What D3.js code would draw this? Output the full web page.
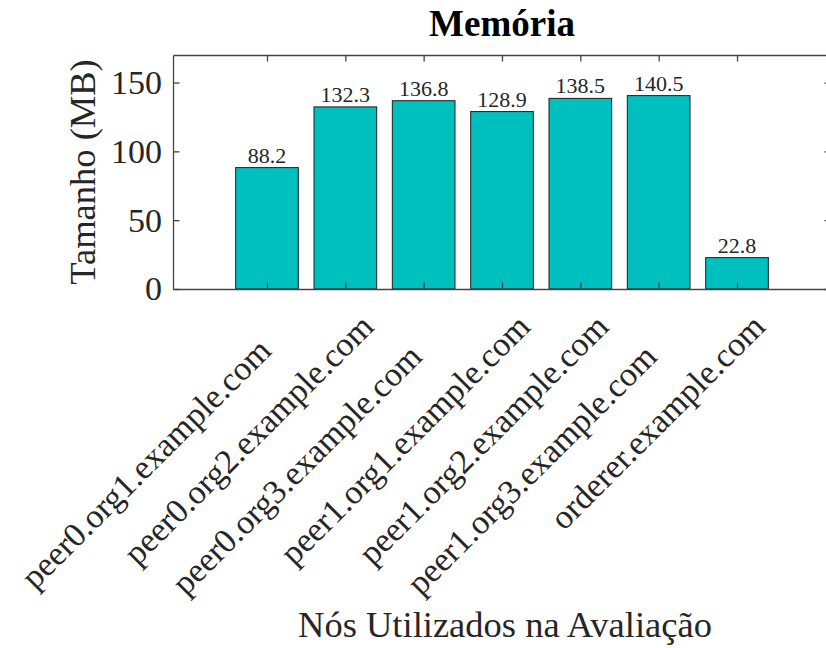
<!DOCTYPE html>
<html>
<head>
<meta charset="utf-8">
<script src="https://cdn.jsdelivr.net/npm/d3@7"></script>
<style>
  body { margin: 0; background: #fff; }
  svg { display: block; font-family: "Liberation Serif", "Times New Roman", serif; }
  .xlab { white-space: pre; }
</style>
</head>
<body>
<div id="chart"></div>
<script>
// node names (some labels carry trailing blanks, as in the original figure)
var categories = [
    "peer0.org1.example.com    ",
    "peer0.org2.example.com",
    "peer0.org3.example.com     ",
    "peer1.org1.example.com",
    "peer1.org2.example.com",
    "peer1.org3.example.com     ",
    "orderer.example.com"
];
var memory = [88.2, 132.3, 136.8, 128.9, 138.5, 140.5, 22.8];
var yTicks = [0, 50, 100, 150];

var width = 826, height = 648;
var axLeft = 173, axRight = 831, axTop = 55, axBottom = 289;
var tickLen = 6.5;
var textColor = "#262626";

var svg = d3.select("#chart").append("svg")
    .attr("width", width)
    .attr("height", height);

var x = d3.scaleLinear().domain([-0.2, categories.length + 1.2]).range([axLeft, axRight]);
var y = d3.scaleLinear().domain([0, 170]).range([axBottom, axTop]);
var barW = x(0.8) - x(0);

// bars
svg.append("g").selectAll("rect")
    .data(memory)
    .enter()
    .append("rect")
    .attr("x", function (d, i) { return x(i + 1) - barW / 2; })
    .attr("y", function (d) { return y(d); })
    .attr("width", barW)
    .attr("height", function (d) { return y(0) - y(d); })
    .attr("fill", "#00bfbf")
    .attr("stroke", "#1f1f1f")
    .attr("stroke-width", 1);

// value labels on top of bars
svg.append("g").selectAll("text")
    .data(memory)
    .enter()
    .append("text")
    .attr("x", function (d, i) { return x(i + 1); })
    .attr("y", function (d) { return y(d) - 5; })
    .attr("text-anchor", "middle")
    .style("font-size", "22px")
    .style("fill", textColor)
    .text(function (d) { return d.toFixed(1); });

// axes, ticks pointing inward (box on)
var idx = d3.range(1, categories.length + 1);
function styleAxis(g) {
    g.selectAll(".domain").attr("stroke", "#444").attr("stroke-width", 1.3);
    g.selectAll(".tick line").attr("stroke", "#444").attr("stroke-width", 1.3);
    g.selectAll(".tick text")
        .style("font-family", "Liberation Serif, Times New Roman, serif")
        .style("font-size", "34px")
        .style("fill", textColor);
}

svg.append("g")
    .attr("transform", "translate(" + axLeft + ",0)")
    .call(d3.axisLeft(y).tickValues(yTicks).tickSize(-tickLen).tickPadding(11).tickSizeOuter(0))
    .call(styleAxis);

svg.append("g")
    .attr("transform", "translate(" + axRight + ",0)")
    .call(d3.axisRight(y).tickValues(yTicks).tickSize(-tickLen).tickFormat("").tickSizeOuter(0))
    .call(styleAxis);

svg.append("g")
    .attr("transform", "translate(0," + axBottom + ")")
    .call(d3.axisBottom(x).tickValues(idx).tickSize(-tickLen).tickFormat("").tickSizeOuter(0))
    .call(styleAxis);

svg.append("g")
    .attr("transform", "translate(0," + axTop + ")")
    .call(d3.axisTop(x).tickValues(idx).tickSize(-tickLen).tickFormat("").tickSizeOuter(0))
    .call(styleAxis);

// rotated category labels
svg.append("g").selectAll("text")
    .data(categories)
    .enter()
    .append("text")
    .attr("class", "xlab")
    .attr("transform", function (d, i) {
        return "translate(" + (x(i + 1) + 30) + ",328.5) rotate(-45)";
    })
    .attr("text-anchor", "end")
    .style("font-size", "34px")
    .style("fill", textColor)
    .text(function (d) { return d; });

// title and axis titles
svg.append("text")
    .attr("x", (axLeft + axRight) / 2)
    .attr("y", 36)
    .attr("text-anchor", "middle")
    .style("font-size", "37px")
    .style("font-weight", "bold")
    .style("fill", "#000")
    .text("Memória");

svg.append("text")
    .attr("transform", "translate(95," + ((axTop + axBottom) / 2) + ") rotate(-90)")
    .attr("text-anchor", "middle")
    .style("font-size", "36.5px")
    .style("fill", textColor)
    .text("Tamanho (MB)");

svg.append("text")
    .attr("x", (axLeft + axRight) / 2 + 3)
    .attr("y", 637)
    .attr("text-anchor", "middle")
    .style("font-size", "36.5px")
    .style("fill", textColor)
    .text("Nós Utilizados na Avaliação");
</script>
</body>
</html>
